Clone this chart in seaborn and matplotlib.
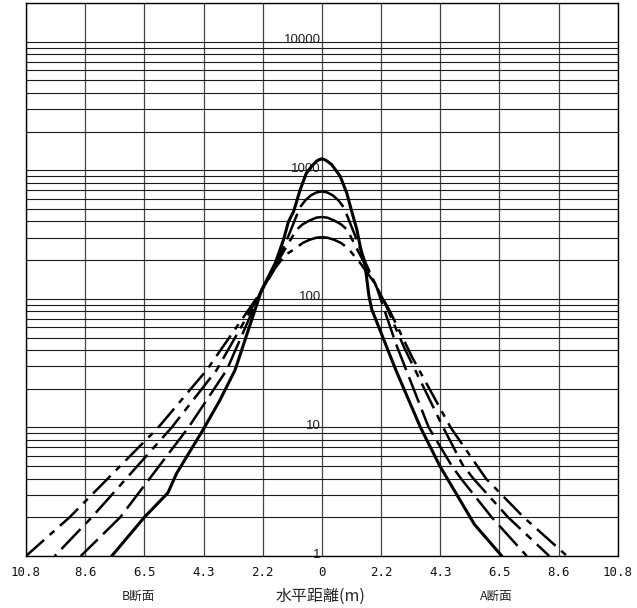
import numpy as np
import matplotlib
matplotlib.use("Agg")
import matplotlib.pyplot as plt
import matplotlib.transforms as mtransforms
from matplotlib.ticker import LogLocator, NullFormatter
import seaborn as sns

# ---- tick labels ----
x_tick_pos = [-10.8, -8.64, -6.48, -4.32, -2.16, 0, 2.16, 4.32, 6.48, 8.64, 10.8]
x_tick_labels = ["10.8", "8.6", "6.5", "4.3", "2.2", "0", "2.2", "4.3", "6.5", "8.6", "10.8"]
y_label_values = [1, 10, 100, 1000, 10000]

# ---- series: distance from centre (m) on B side / A side and values ----
s1_b_dist = [0, 0.1, 0.2, 0.36, 0.57, 0.79, 1.03, 1.22, 1.40, 1.7, 2.2, 3.17, 3.72, 4.31, 5.30, 5.62, 6.48, 7.67]
s1_b_val = [1225, 1210, 1175, 1085, 945, 708, 479, 398, 288, 190, 117, 27.9, 16.3, 9.8, 4.4, 3.1, 2.0, 1.0]
s1_a_dist = [0, 0.1, 0.2, 0.36, 0.67, 0.91, 1.09, 1.28, 1.40, 1.58, 1.72, 1.82, 2.7, 3.6, 4.31, 5.57, 6.57]
s1_a_val = [1225, 1210, 1175, 1107, 898, 665, 479, 344, 256, 180, 105, 83, 28, 10, 5.0, 1.76, 1.0]

s2_b_dist = [0, 0.2, 0.4, 0.6, 0.8, 1.2, 1.6, 2.2, 3.47, 4.87, 7.36, 8.8]
s2_b_val = [685, 672, 638, 585, 515, 316, 200, 117, 28, 10, 2.0, 1.0]
s2_a_dist = [0, 0.2, 0.4, 0.6, 0.8, 1.2, 1.6, 2.0, 2.7, 3.9, 4.75, 5.08, 6.2, 7.48]
s2_a_val = [685, 672, 638, 585, 515, 316, 190, 123, 45, 10, 5.0, 4.0, 2.0, 1.0]

s3_b_dist = [0, 0.2, 0.45, 0.7, 0.93, 1.5, 2.2, 3.84, 5.48, 8.40, 9.75]
s3_b_val = [433, 428, 407, 380, 344, 214, 115, 28, 10, 2.0, 1.0]
s3_a_dist = [0, 0.2, 0.45, 0.7, 0.93, 1.3, 1.7, 2.3, 3.0, 4.43, 5.12, 5.53, 6.8, 8.3]
s3_a_val = [433, 428, 407, 380, 344, 240, 166, 93, 42, 10, 5.2, 4.0, 2.0, 1.0]

s4_b_dist = [0, 0.2, 0.45, 0.7, 0.95, 1.34, 1.7, 2.2, 4.2, 5.97, 9.21, 10.8]
s4_b_val = [302, 299, 288, 272, 248, 219, 174, 115, 28, 10, 2.0, 1.0]
s4_a_dist = [0, 0.2, 0.45, 0.7, 0.95, 1.4, 1.9, 2.5, 3.3, 4.7, 5.99, 7.37, 8.95]
s4_a_val = [302, 299, 288, 272, 248, 190, 135, 79, 35, 10, 4.0, 2.0, 1.0]

sns.set_style("white")
plt.rcParams["font.family"] = ["Noto Sans CJK JP", "DejaVu Sans"]

W, H = 637, 608
fig = plt.figure(figsize=(W / 100, H / 100), dpi=100)
ax = fig.add_axes([26 / W, (H - 556) / H, 591.7 / W, 553 / H])

ax.set_yscale("log")
ax.set_xlim(-10.8, 10.8)
ax.set_ylim(1, 20000)

styles = [
    ("-", 2.2),
    ((0, (11, 3)), 1.8),
    ((0, (11, 3, 3, 3)), 1.8),
    ((0, (10, 3, 2.5, 3)), 1.8),
]
series = [
    (s1_b_dist, s1_b_val, s1_a_dist, s1_a_val),
    (s2_b_dist, s2_b_val, s2_a_dist, s2_a_val),
    (s3_b_dist, s3_b_val, s3_a_dist, s3_a_val),
    (s4_b_dist, s4_b_val, s4_a_dist, s4_a_val),
]
for (bd, bv, ad, av), (ls, lw) in zip(series, styles):
    for sign, d, v in ((-1, bd, bv), (1, ad, av)):
        sns.lineplot(x=sign * np.asarray(d, float), y=np.asarray(v, float), ax=ax,
                     color="black", lw=lw, linestyle=ls, sort=False, estimator=None,
                     dash_capstyle="butt", solid_capstyle="round",
                     solid_joinstyle="round", zorder=3)

# grid
ax.yaxis.set_major_locator(LogLocator(base=10, numticks=12))
ax.yaxis.set_minor_locator(LogLocator(base=10, subs=range(2, 10), numticks=12))
ax.yaxis.set_major_formatter(NullFormatter())
ax.yaxis.set_minor_formatter(NullFormatter())
ax.set_xticks(x_tick_pos)
ax.set_xticklabels(x_tick_labels, family="DejaVu Sans Mono", fontsize=9, color="#111")
ax.grid(True, which="both", axis="y", color="#1a1a1a", lw=0.8)
ax.grid(True, which="major", axis="x", color="#444", lw=0.9)
ax.set_axisbelow(True)
ax.tick_params(axis="both", which="both", length=0)
ax.tick_params(axis="x", pad=7)
ax.set_xlabel("")
ax.set_ylabel("")
for sp in ax.spines.values():
    sp.set_color("black")
    sp.set_linewidth(1.0)

off = mtransforms.offset_copy(ax.transData, fig=fig, x=-1, y=1.5, units="dots")
for v in y_label_values:
    ax.text(0, v, str(v), ha="right", va="center", fontsize=9.5, color="#222",
            family="Liberation Sans", transform=off, clip_on=False, zorder=2)

fig.text(138.3 / W, (H - 596.7) / H, "B断面", ha="center", va="center", fontsize=9)
fig.text(320.8 / W, (H - 596.7) / H, "水平距離(m)", ha="center", va="center", fontsize=11.5)
fig.text(496.7 / W, (H - 596.7) / H, "A断面", ha="center", va="center", fontsize=9)

fig.savefig("out.png", dpi=100)
